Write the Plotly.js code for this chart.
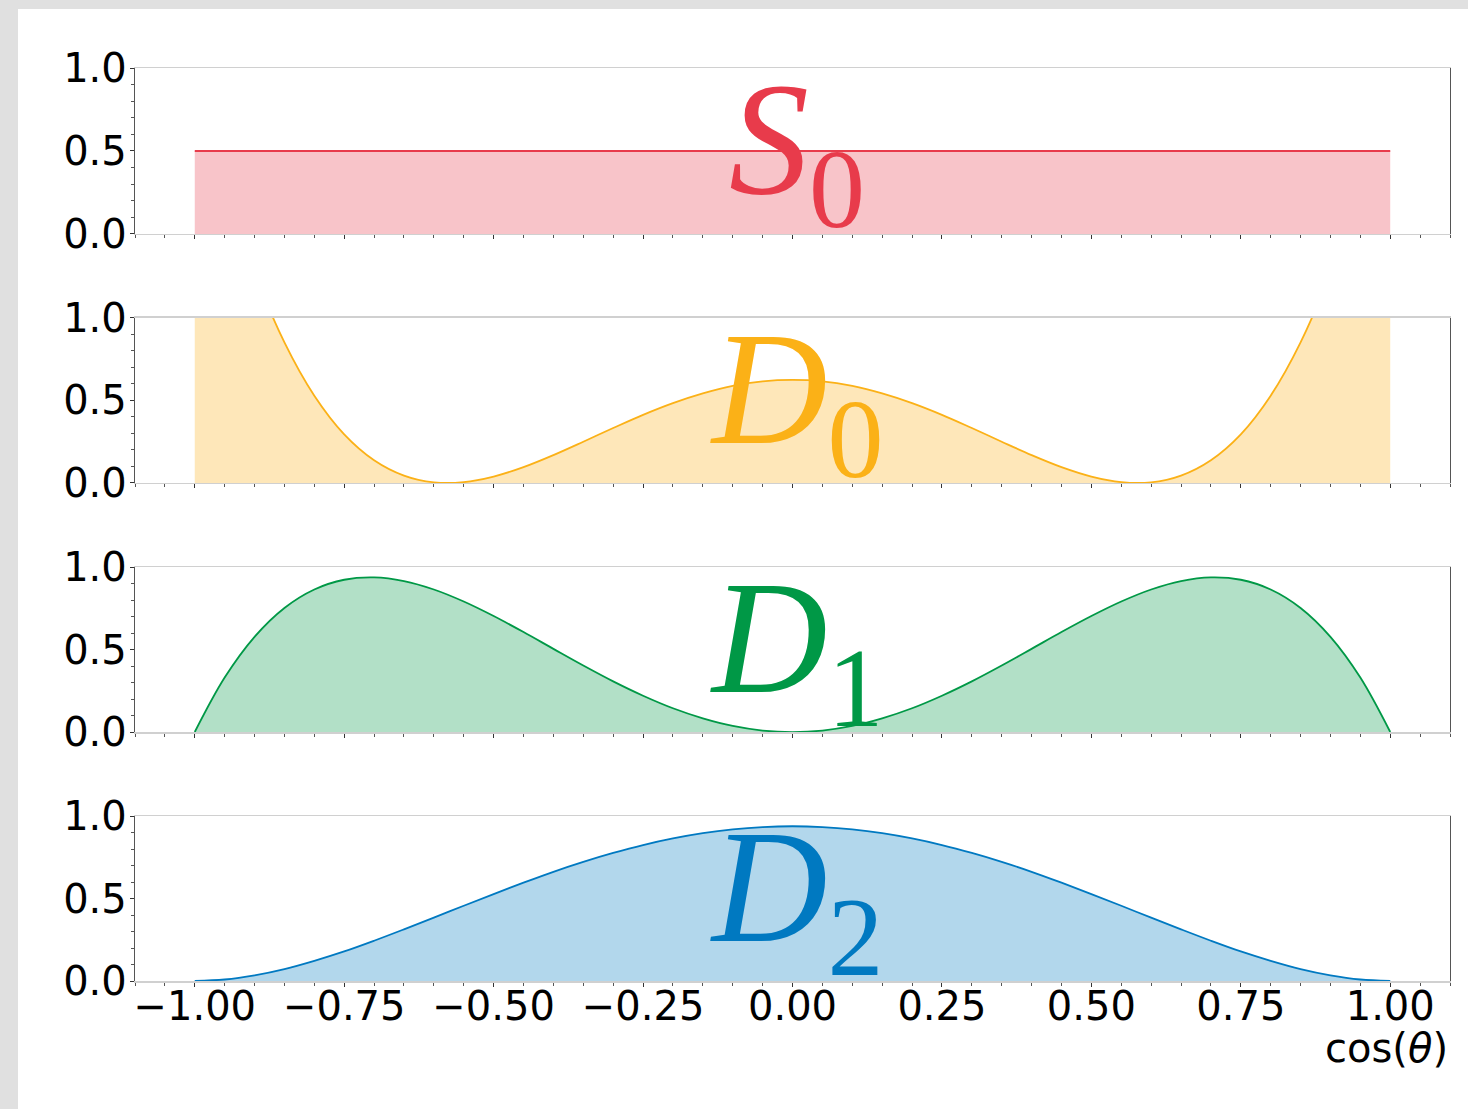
<!DOCTYPE html>
<html>
<head>
<meta charset="utf-8">
<script src="https://cdn.plot.ly/plotly-3.0.1.min.js"></script>
<style>
  html, body { margin: 0; padding: 0; background: #e0e0e0; width: 1468px; height: 1109px; overflow: hidden; }
  #chart { position: absolute; left: 18px; top: 9px; width: 1450px; height: 1100px; background: #ffffff; }
</style>
</head>
<body>
<div id="chart"></div>
<script>
// cos(theta) sample positions
const cosTheta = [-1.00,-0.95,-0.90,-0.85,-0.80,-0.75,-0.70,-0.65,-0.60,-0.55,-0.50,-0.45,-0.40,-0.35,-0.30,-0.25,-0.20,-0.15,-0.10,-0.05,
                  0.00,0.05,0.10,0.15,0.20,0.25,0.30,0.35,0.40,0.45,0.50,0.55,0.60,0.65,0.70,0.75,0.80,0.85,0.90,0.95,1.00];

// S0 : flat distribution
const s0X = [-1.00, 1.00];
const s0Y = [0.5, 0.5];

// D0 (values above 1 are cut off by the axis)
const d0Y = [2.500,1.822,1.278,0.852,0.529,0.295,0.138,0.045,0.004,0.005,0.039,0.096,0.169,0.250,0.333,0.413,0.484,0.543,0.588,0.616,
             0.625,0.616,0.588,0.543,0.484,0.413,0.333,0.250,0.169,0.096,0.039,0.005,0.004,0.045,0.138,0.295,0.529,0.852,1.278,1.822,2.500];

// D1
const d1Y = [0.000,0.330,0.577,0.752,0.864,0.923,0.937,0.915,0.864,0.791,0.703,0.606,0.504,0.403,0.307,0.220,0.144,0.083,0.037,0.009,
             0.000,0.009,0.037,0.083,0.144,0.220,0.307,0.403,0.504,0.606,0.703,0.791,0.864,0.915,0.937,0.923,0.864,0.752,0.577,0.330,0.000];

// D2
const d2Y = [0.000,0.009,0.034,0.072,0.122,0.179,0.244,0.313,0.384,0.456,0.527,0.596,0.662,0.722,0.776,0.824,0.864,0.896,0.919,0.933,
             0.938,0.933,0.919,0.896,0.864,0.824,0.776,0.722,0.662,0.596,0.527,0.456,0.384,0.313,0.244,0.179,0.122,0.072,0.034,0.009,0.000];

const panelNames = ['<i>S</i><sub>0</sub>', '<i>D</i><sub>0</sub>', '<i>D</i><sub>1</sub>', '<i>D</i><sub>2</sub>'];
const lineColors = ['#e83b4b', '#fbb117', '#009846', '#0079c1'];
const fillColors = ['rgba(232,59,75,0.3)', 'rgba(251,177,23,0.3)', 'rgba(0,152,70,0.3)', 'rgba(0,121,193,0.3)'];

const xTickVals = [-1.00,-0.75,-0.50,-0.25,0.00,0.25,0.50,0.75,1.00];
const xTickText = ['\u22121.00','\u22120.75','\u22120.50','\u22120.25','0.00','0.25','0.50','0.75','1.00'];
const yTickVals = [0.0, 0.5, 1.0];
const yTickText = ['0.0', '0.5', '1.0'];
const xTitle = 'cos(<i>\u03b8</i>)';

const seriesX = [s0X, cosTheta, cosTheta, cosTheta];
const seriesY = [s0Y, d0Y, d1Y, d2Y];

const domains = [[0.8182, 1.0], [0.5455, 0.7262], [0.2727, 0.4534], [0.0, 0.1807]];

const traces = [];
const layout = {
  width: 1450, height: 1100,
  margin: {l: 117, r: 18, t: 59, b: 128},
  paper_bgcolor: '#ffffff',
  plot_bgcolor: '#ffffff',
  showlegend: false,
  font: {family: 'DejaVu Sans', size: 40, color: '#000000'},
  annotations: []
};

for (let i = 0; i < 4; i++) {
  const sfx = i === 0 ? '' : String(i + 1);
  traces.push({
    type: 'scatter', mode: 'lines',
    x: seriesX[i], y: seriesY[i],
    xaxis: 'x' + sfx, yaxis: 'y' + sfx,
    fill: 'tozeroy',
    fillcolor: fillColors[i],
    line: {color: lineColors[i], width: 1.8, shape: 'spline', smoothing: 1},
    hoverinfo: 'skip'
  });
  layout['xaxis' + sfx] = {
    domain: [0, 1], anchor: 'y' + sfx,
    range: [-1.1, 1.1],
    tickmode: 'array', tickvals: xTickVals, ticktext: xTickText,
    showticklabels: i === 3,
    ticklabelstandoff: -15,
    ticks: 'outside', ticklen: 4, tickwidth: 1, tickcolor: '#333',
    minor: {ticks: 'outside', tickmode: 'linear', tick0: 0, dtick: 0.05, ticklen: 3, tickwidth: 1, tickcolor: '#555'},
    showline: true, linecolor: '#d0d0d0', linewidth: 1.5, mirror: true,
    showgrid: false, zeroline: false,
    tickfont: {family: 'DejaVu Sans', size: 40, color: '#000'}
  };
  layout['yaxis' + sfx] = {
    domain: domains[i], anchor: 'x' + sfx,
    range: [0, 1],
    tickmode: 'array', tickvals: yTickVals, ticktext: yTickText,
    ticklabelstandoff: -5,
    ticks: 'outside', ticklen: 4, tickwidth: 1, tickcolor: '#333',
    minor: {ticks: 'outside', tickmode: 'linear', tick0: 0, dtick: 0.1, ticklen: 3, tickwidth: 1, tickcolor: '#555'},
    showline: true, linecolor: '#555555', linewidth: 1.2, mirror: true,
    showgrid: false, zeroline: false,
    tickfont: {family: 'DejaVu Sans', size: 40, color: '#000'}
  };
  layout.annotations.push({
    xref: 'x' + sfx, yref: 'y' + sfx + ' domain',
    x: 0.007, y: 0.5, xanchor: 'center', yanchor: 'middle',
    text: panelNames[i], showarrow: false,
    font: {family: 'Liberation Serif', size: 160, color: lineColors[i]}
  });
}

layout.annotations.push({
  xref: 'paper', yref: 'paper', x: 1.0, y: -0.073, xanchor: 'right', yanchor: 'middle',
  text: xTitle, showarrow: false,
  font: {family: 'DejaVu Sans', size: 40, color: '#000'}
});

Plotly.newPlot('chart', traces, layout, {displayModeBar: false, staticPlot: true});
</script>
</body>
</html>
